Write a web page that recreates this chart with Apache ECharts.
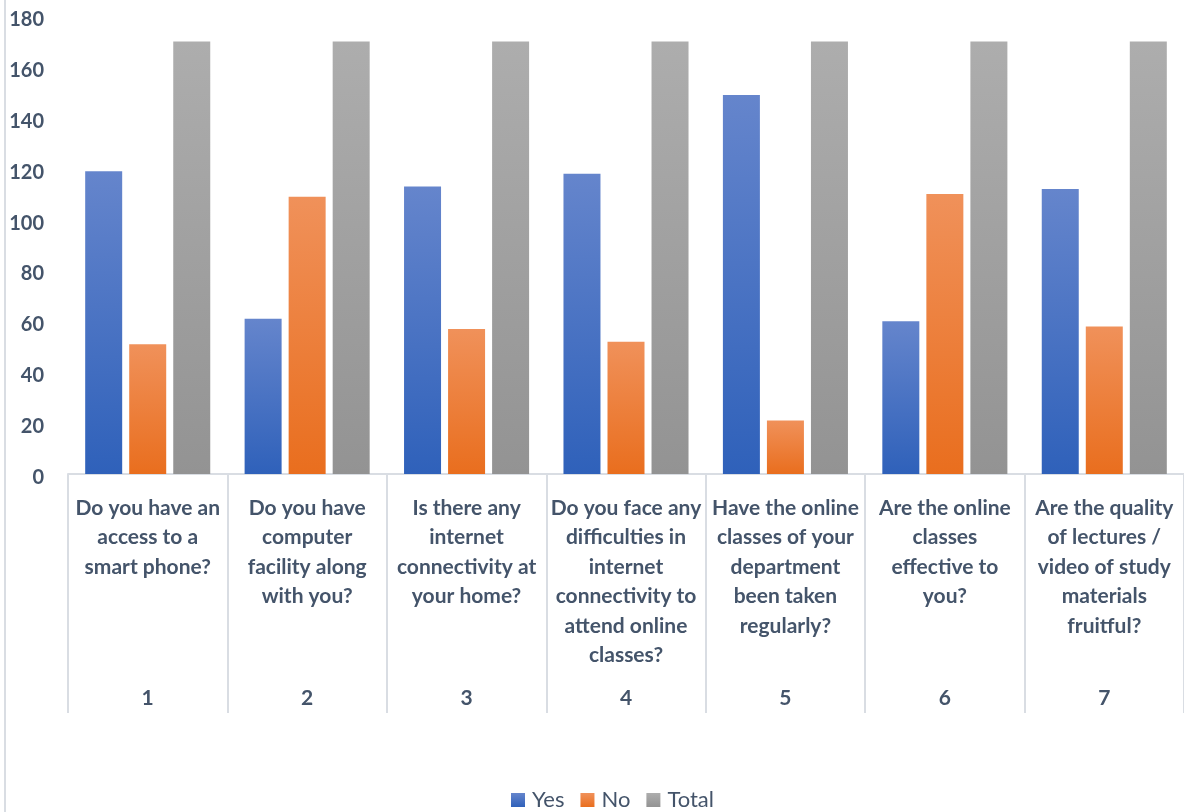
<!DOCTYPE html>
<html>
<head>
<meta charset="utf-8">
<script src="https://cdn.jsdelivr.net/npm/echarts@6/dist/echarts.min.js"></script>
<style>html,body{margin:0;padding:0;background:#fff;}#c{width:1184px;height:812px;}</style>
</head>
<body>
<div id="c"></div>
<script>
const questions = [
  "Do you have an\naccess to a\nsmart phone?",
  "Do you have\ncomputer\nfacility along\nwith you?",
  "Is there any\ninternet\nconnectivity at\nyour home?",
  "Do you face any\ndifficulties in\ninternet\nconnectivity to\nattend online\nclasses?",
  "Have the online\nclasses of your\ndepartment\nbeen taken\nregularly?",
  "Are the online\nclasses\neffective to\nyou?",
  "Are the quality\nof lectures /\nvideo of study\nmaterials\nfruitful?"
];
const numbers = ["1", "2", "3", "4", "5", "6", "7"];
const yesValues = [119, 61, 113, 118, 149, 60, 112];
const noValues = [51, 109, 57, 52, 21, 110, 58];
const totalValues = [170, 170, 170, 170, 170, 170, 170];
const seriesNames = ["Yes", "No", "Total"];

const txt = '#44546A';
const font = 'Lato';
function grad(top, bottom) {
  return new echarts.graphic.LinearGradient(0, 0, 0, 1, [
    { offset: 0, color: top }, { offset: 1, color: bottom }
  ]);
}
const chart = echarts.init(document.getElementById('c'), null, { renderer: 'canvas' });
chart.setOption({
  animation: false,
  textStyle: { fontFamily: font },
  grid: { left: 68, right: 0, top: 16, bottom: 338, containLabel: false },
  graphic: [{
    type: 'line', shape: { x1: 5, y1: 0, x2: 5, y2: 812 },
    style: { stroke: '#D9DDE3', lineWidth: 2 }
  }],
  legend: {
    data: seriesNames, left: 511, top: 789, padding: 0,
    itemWidth: 14, itemHeight: 14, itemGap: 16,
    icon: 'rect',
    textStyle: { color: txt, fontSize: 22, fontFamily: font, padding: [3, 0, 0, 2] }
  },
  xAxis: [{
    type: 'category', data: questions, gridIndex: 0,
    axisLine: { show: true, lineStyle: { color: '#D9DDE3', width: 2 } },
    axisTick: { show: true, length: 239, interval: 0, lineStyle: { color: '#D9DDE3', width: 2 } },
    axisLabel: {
      interval: 0, margin: 19, color: txt, fontSize: 21, fontWeight: 'bold',
      fontFamily: font, lineHeight: 29.5, align: 'center'
    }
  }, {
    type: 'category', data: numbers, gridIndex: 0, position: 'bottom',
    axisLine: { show: false }, axisTick: { show: false },
    axisLabel: { interval: 0, margin: 214, color: txt, fontSize: 21, fontWeight: 'bold', fontFamily: font }
  }],
  yAxis: {
    type: 'value', min: 0, max: 180, interval: 20,
    axisLine: { show: false }, axisTick: { show: false }, splitLine: { show: false },
    axisLabel: {
      margin: 24, formatter: '{v|{value}}',
      rich: { v: { color: txt, fontSize: 20, fontWeight: 'bold', fontFamily: font, padding: [7, 0, 0, 0] } }
    }
  },
  series: [
    { name: seriesNames[0], type: 'bar', data: yesValues, barWidth: 37, barGap: '19%',
      itemStyle: { color: grad('#6585CC', '#2F61BA') } },
    { name: seriesNames[1], type: 'bar', data: noValues, barWidth: 37, barGap: '19%',
      itemStyle: { color: grad('#F0915A', '#E96E1E') } },
    { name: seriesNames[2], type: 'bar', data: totalValues, barWidth: 37, barGap: '19%',
      itemStyle: { color: grad('#ADADAD', '#939393') } }
  ]
});
</script>
</body>
</html>
